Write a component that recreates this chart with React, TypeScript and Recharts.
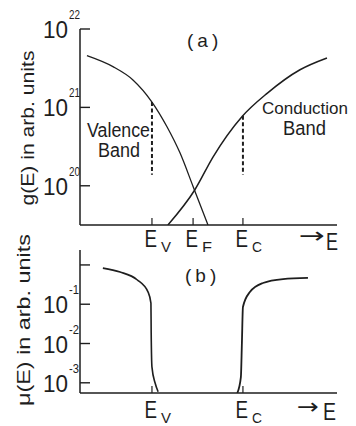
import React from "react";
import { LineChart, Line, XAxis, YAxis, ReferenceLine } from "recharts";

// Energy axis (arbitrary units) and the band-edge positions on it
const energyDomain: [number, number] = [0, 10];
const edgeEV = 2.8;
const edgeEF = 4.4;
const edgeEC = 6.34;

// (a) density of states g(E), arb. units (log scale)
const dosDomain: [number, number] = [3.16e19, 1e22];
const dosTicks = [1e20, 1e21, 1e22];
const valenceE = [0.27, 1.28, 2.06, 2.8, 3.39, 3.89, 4.4, 4.98];
const valenceDos = [4.57e21, 3.31e21, 2.24e21, 1.17e21, 5.62e20, 2.63e20, 9.8e19, 3.16e19];
const conductionE = [3.42, 4.47, 5.18, 6.3, 7.28, 8.56, 9.61];
const conductionDos = [3.16e19, 8.9e19, 2.34e20, 7.6e20, 1.51e21, 3.02e21, 4.27e21];
const dashTopEV = 1.17e21;
const dashTopEC = 7.8e20;
const dashBottom = 1.38e20;

// (b) mobility mu(E), arb. units (log scale)
const mobDomain: [number, number] = [5.5e-4, 2.4];
const mobTicks = [1e-3, 1e-2, 1e-1, 1];
const valenceMobE = [0.89, 1.56, 2.22, 2.65, 2.76, 2.77, 2.8, 2.92, 3.04];
const valenceMob = [0.83, 0.66, 0.42, 0.204, 0.107, 0.0186, 0.0025, 0.001, 0.00059];
const conductionMobE = [6.12, 6.26, 6.3, 6.34, 6.61, 7.12, 7.9, 8.87];
const conductionMob = [0.00055, 0.0014, 0.0105, 0.085, 0.204, 0.347, 0.437, 0.468];

// Tick labels along the energy axis
const topEdgeTicks = [edgeEV, edgeEF, edgeEC];
const bottomEdgeTicks = [edgeEV, edgeEC];
const edgeSubscripts: Record<string, string> = {
  [String(edgeEV)]: "V",
  [String(edgeEF)]: "F",
  [String(edgeEC)]: "C",
};

const INK = "#1e1e1e";
const FONT = "'Liberation Sans', Arial, sans-serif";

const zip = (xs: number[], ys: number[]) => xs.map((E, i) => ({ E, v: ys[i] }));

const valenceDosData = zip(valenceE, valenceDos);
const conductionDosData = zip(conductionE, conductionDos);
const valenceMobData = zip(valenceMobE, valenceMob);
const conductionMobData = zip(conductionMobE, conductionMob);

// Power-of-ten label with an inward tick mark
const PowerTick = (props: any) => {
  const { x, y, payload } = props;
  const exp = Math.round(Math.log10(payload.value));
  return (
    <g>
      <line x1={x} x2={x + 10} y1={y} y2={y} stroke={INK} strokeWidth={1.4} />
      {exp !== 0 && (
        <g fill={INK} fontFamily={FONT}>
          <text x={x - 37} y={y + 9} fontSize={23} textLength={25} lengthAdjust="spacingAndGlyphs">
            10
          </text>
          <text x={x - 11} y={y - 10} fontSize={12} textLength={exp < 0 ? 10 : 11} lengthAdjust="spacingAndGlyphs">
            {exp < 0 ? `-${-exp}` : String(exp)}
          </text>
        </g>
      )}
    </g>
  );
};

// Band-edge label (E with subscript) and a short inward tick
const makeEdgeTick = (labelDy: number) => (props: any) => {
  const { x, y, payload } = props;
  const sub = edgeSubscripts[String(payload.value)] ?? "";
  return (
    <g fill={INK} fontFamily={FONT}>
      <line x1={x} x2={x} y1={y - 7} y2={y} stroke={INK} strokeWidth={1.2} />
      <text x={x - 7.5} y={y + labelDy} fontSize={23} textLength={12.5} lengthAdjust="spacingAndGlyphs">
        E
      </text>
      <text x={x + 9} y={y + labelDy + 5} fontSize={14} textLength={10} lengthAdjust="spacingAndGlyphs">
        {sub}
      </text>
    </g>
  );
};

const chartBox: React.CSSProperties = { position: "absolute", left: 0, top: 0 };

export default function App() {
  return (
    <div
      style={{
        position: "absolute",
        left: 0,
        top: 0,
        width: 356,
        height: 426,
        background: "#ffffff",
        overflow: "hidden",
      }}
    >
      {/* (a) density of states */}
      <div style={chartBox}>
        <LineChart width={356} height={426} margin={{ top: 29, right: 19, bottom: 200, left: 79 }}>
          <XAxis
            dataKey="E"
            type="number"
            domain={energyDomain}
            ticks={topEdgeTicks}
            height={1}
            tickSize={0}
            tickMargin={0}
            tickLine={false}
            tick={makeEdgeTick(22)}
            axisLine={{ stroke: INK, strokeWidth: 1.5 }}
            interval={0}
            allowDataOverflow
          />
          <YAxis
            type="number"
            scale="log"
            domain={dosDomain}
            ticks={dosTicks}
            width={1}
            tickSize={0}
            tickMargin={0}
            tickLine={false}
            tick={PowerTick}
            axisLine={{ stroke: INK, strokeWidth: 1.5 }}
            interval={0}
            allowDataOverflow
          />
          <ReferenceLine
            segment={[{ x: edgeEV, y: dashTopEV }, { x: edgeEV, y: dashBottom }]}
            stroke={INK}
            strokeWidth={2}
            strokeDasharray="4 2.5"
          />
          <ReferenceLine
            segment={[{ x: edgeEC, y: dashTopEC }, { x: edgeEC, y: dashBottom }]}
            stroke={INK}
            strokeWidth={2}
            strokeDasharray="4 2.5"
          />
          <Line data={valenceDosData} dataKey="v" type="monotone" stroke={INK} strokeWidth={1.3} dot={false} isAnimationActive={false} />
          <Line data={conductionDosData} dataKey="v" type="monotone" stroke={INK} strokeWidth={1.5} dot={false} isAnimationActive={false} />
        </LineChart>
      </div>

      {/* (b) mobility */}
      <div style={chartBox}>
        <LineChart width={356} height={426} margin={{ top: 250, right: 19, bottom: 32, left: 79 }}>
          <XAxis
            dataKey="E"
            type="number"
            domain={energyDomain}
            ticks={bottomEdgeTicks}
            height={1}
            tickSize={0}
            tickMargin={0}
            tickLine={false}
            tick={makeEdgeTick(25)}
            axisLine={{ stroke: INK, strokeWidth: 1.5 }}
            interval={0}
            allowDataOverflow
          />
          <YAxis
            type="number"
            scale="log"
            domain={mobDomain}
            ticks={mobTicks}
            width={1}
            tickSize={0}
            tickMargin={0}
            tickLine={false}
            tick={PowerTick}
            axisLine={{ stroke: INK, strokeWidth: 1.5 }}
            interval={0}
            allowDataOverflow
          />
          <Line data={valenceMobData} dataKey="v" type="monotone" stroke={INK} strokeWidth={1.6} dot={false} isAnimationActive={false} />
          <Line data={conductionMobData} dataKey="v" type="monotone" stroke={INK} strokeWidth={1.8} dot={false} isAnimationActive={false} />
        </LineChart>
      </div>

      {/* titles, axis names and band annotations */}
      <svg width={356} height={426} style={{ position: "absolute", left: 0, top: 0, pointerEvents: "none" }}>
        <g fill={INK} fontFamily={FONT}>
          <text transform="rotate(-90)" x={-128} y={34} fontSize={19} textAnchor="middle" textLength={155} lengthAdjust="spacingAndGlyphs">
            g(E) in arb. units
          </text>
          <text transform="rotate(-90)" x={-320} y={30} fontSize={19} textAnchor="middle" textLength={172} lengthAdjust="spacingAndGlyphs">
            μ(E) in arb. units
          </text>

          <text x={187} y={47} fontSize={19} letterSpacing={4}>(a)</text>
          <text x={185} y={282} fontSize={19} letterSpacing={4}>(b)</text>

          <text x={87} y={137} fontSize={20} textLength={63} lengthAdjust="spacingAndGlyphs">Valence</text>
          <text x={98} y={157} fontSize={20} textLength={42} lengthAdjust="spacingAndGlyphs">Band</text>
          <text x={262} y={114} fontSize={17} textLength={86} lengthAdjust="spacingAndGlyphs">Conduction</text>
          <text x={283} y={135} fontSize={20} textLength={43} lengthAdjust="spacingAndGlyphs">Band</text>

          <text x={299} y={243} fontSize={22} fontFamily="'DejaVu Sans', sans-serif" textLength={26} lengthAdjust="spacingAndGlyphs">→</text>
          <text x={326} y={250} fontSize={23} textLength={12} lengthAdjust="spacingAndGlyphs">E</text>
          <text x={297} y={414} fontSize={22} fontFamily="'DejaVu Sans', sans-serif" textLength={22} lengthAdjust="spacingAndGlyphs">→</text>
          <text x={323} y={420} fontSize={23} textLength={13} lengthAdjust="spacingAndGlyphs">E</text>
        </g>
      </svg>
    </div>
  );
}
